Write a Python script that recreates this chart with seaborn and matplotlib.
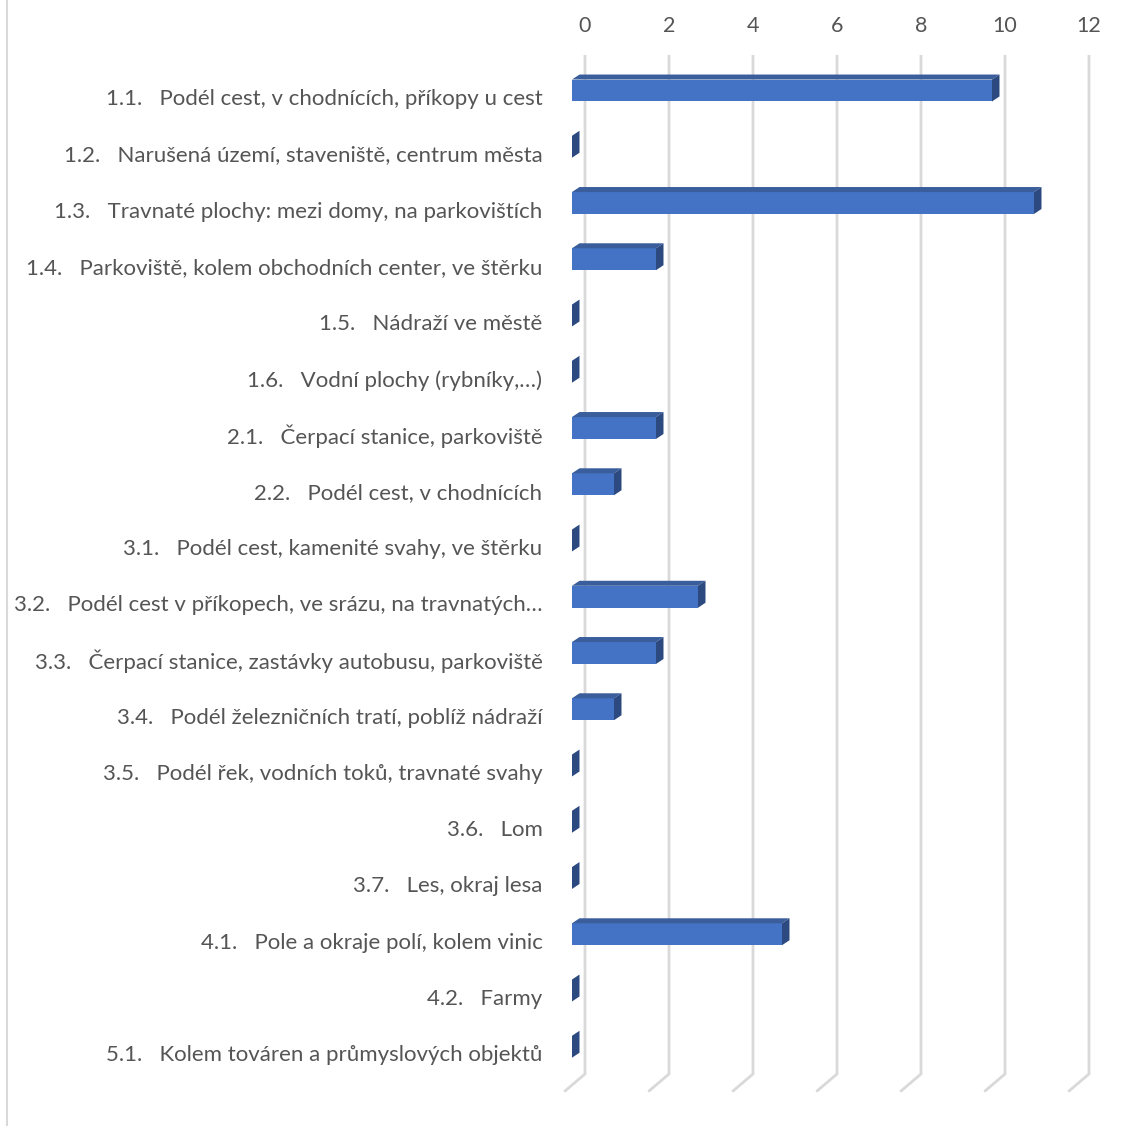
import numpy as np
import pandas as pd
import seaborn as sns
import matplotlib.pyplot as plt
from matplotlib.patches import Polygon
from matplotlib.lines import Line2D

# Data
labels = [
    "1.1.   Podél cest, v chodnících, příkopy u cest",
    "1.2.   Narušená území, staveniště, centrum města",
    "1.3.   Travnaté plochy: mezi domy, na parkovištích",
    "1.4.   Parkoviště, kolem obchodních center, ve štěrku",
    "1.5.   Nádraží ve městě",
    "1.6.   Vodní plochy (rybníky,…)",
    "2.1.   Čerpací stanice, parkoviště",
    "2.2.   Podél cest, v chodnících",
    "3.1.   Podél cest, kamenité svahy, ve štěrku",
    "3.2.   Podél cest v příkopech, ve srázu, na travnatých…",
    "3.3.   Čerpací stanice, zastávky autobusu, parkoviště",
    "3.4.   Podél železničních tratí, poblíž nádraží",
    "3.5.   Podél řek, vodních toků, travnaté svahy",
    "3.6.   Lom",
    "3.7.   Les, okraj lesa",
    "4.1.   Pole a okraje polí, kolem vinic",
    "4.2.   Farmy",
    "5.1.   Kolem továren a průmyslových objektů",
]
values = [10, 0, 11, 2, 0, 0, 2, 1, 0, 3, 2, 1, 0, 0, 0, 5, 0, 0]
ticks = [0, 2, 4, 6, 8, 10, 12]

df = pd.DataFrame({"label": labels, "value": values})

sns.set_style("white")
plt.rcParams['font.family'] = ['Lato', 'DejaVu Sans']

W, H = 1131, 1126
fig = plt.figure(figsize=(W / 100, H / 100), dpi=100)

# pixel geometry of the plot area
px_per_unit = 42.0
px_zero = 585
row_px = 56.25
row0_px = 97
ax_l, ax_r, ax_t, ax_b = 548, 1110, 55, 1100
xlim = ((ax_l - px_zero) / px_per_unit, (ax_r - px_zero) / px_per_unit)
ylim = ((ax_b - row0_px) / row_px, (ax_t - row0_px) / row_px)
ax = fig.add_axes([ax_l / W, 1 - ax_b / H, (ax_r - ax_l) / W, (ax_b - ax_t) / H])

front = "#4472C4"
top_c = "#3A5D9C"
side_c = "#2C4A80"
grid_c = "#D9D9D9"
text_c = "#555555"

# gridlines with floor slant
grid_bottom = (1074 - row0_px) / row_px
slant_dx = -20 / px_per_unit
slant_dy = 17 / row_px
for t in ticks:
    ax.plot([t, t, t + slant_dx], [ylim[1], grid_bottom, grid_bottom + slant_dy],
            color=grid_c, lw=2, solid_joinstyle='miter', zorder=0)

sns.barplot(data=df, x="value", y="label", orient="h", color=front,
            width=0.39, saturation=1, ax=ax, zorder=2)

# shift front faces and add 3D top / side faces
off_x = -13 / px_per_unit
off_y = -6.5 / row_px
dep_x = 7.5 / px_per_unit
dep_y = -5 / row_px
for p in ax.patches[:len(values)]:
    p.set_x(p.get_x() + off_x)
    p.set_y(p.get_y() + off_y)
    p.set_edgecolor("none")
    x0, y0 = p.get_x(), p.get_y()
    x1, y1 = x0 + p.get_width(), y0 + p.get_height()
    if p.get_width() > 0:
        ax.add_patch(Polygon([(x0, y0), (x0 + dep_x, y0 + dep_y), (x1 + dep_x, y0 + dep_y), (x1, y0)],
                             closed=True, facecolor=top_c, edgecolor="none", zorder=2))
    ax.add_patch(Polygon([(x1, y0), (x1 + dep_x, y0 + dep_y), (x1 + dep_x, y1 + dep_y), (x1, y1)],
                         closed=True, facecolor=side_c, edgecolor="none", zorder=2))

ax.set_xlim(xlim)
ax.set_ylim(ylim)
ax.xaxis.tick_top()
ax.set_xticks(ticks)
ax.set_xticklabels([str(t) for t in ticks])
ax.tick_params(axis='x', length=0, pad=14, labelsize=15.5, labelcolor=text_c)
ax.tick_params(axis='y', length=0, pad=4, labelsize=16, labelcolor=text_c)
ax.set_xlabel("")
ax.set_ylabel("")
for s in ax.spines.values():
    s.set_visible(False)

fig.add_artist(Line2D([6.5 / W, 6.5 / W], [0, 1], color=grid_c, lw=1.5))

fig.savefig("out.png", dpi=100)
